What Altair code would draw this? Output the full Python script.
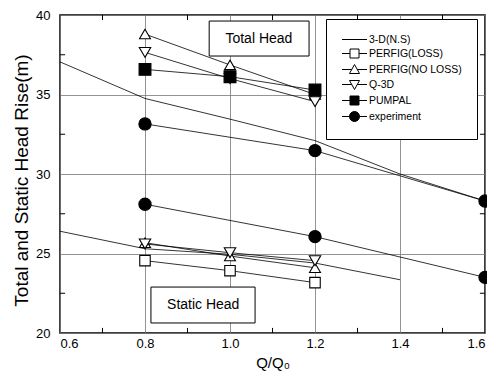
import altair as alt
import pandas as pd

# ---------------- data ----------------
series_names = ["3-D(N.S)", "PERFIG(LOSS)", "PERFIG(NO LOSS)", "Q-3D", "PUMPAL", "experiment"]

q_cfd_total = [0.6, 0.8, 1.0, 1.2, 1.4, 1.6]
cfd_total = [37.05, 34.75, 33.45, 32.1, 30.0, 28.3]
q_cfd_static = [0.6, 0.8, 1.0, 1.2, 1.4]
cfd_static = [26.4, 25.3, 24.95, 24.4, 23.35]

q_design = [0.8, 1.0, 1.2]
perfig_loss_static = [24.55, 23.92, 23.17]
perfig_noloss_total = [38.8, 36.86, 35.0]
perfig_noloss_static = [25.68, 24.84, 24.1]
q3d_total = [37.65, 36.0, 34.55]
q3d_static = [25.6, 25.05, 24.55]
pumpal_total = [36.58, 36.12, 35.28]

q_exp = [0.8, 1.2, 1.6]
exp_total = [33.15, 31.47, 28.3]
exp_static = [28.1, 26.06, 23.5]

x_ticks = [0.6, 0.8, 1.0, 1.2, 1.4, 1.6]
y_ticks = [20, 25, 30, 35, 40]
minor_x = [0.7, 0.9, 1.1, 1.3, 1.5]
minor_y = [22.5, 27.5, 32.5, 37.5]

annot_text = ["Total Head", "Static Head"]
annot_x = [1.068, 0.937]
annot_y = [38.52, 21.76]
annot_x1 = [0.951, 0.814]
annot_x2 = [1.186, 1.059]
annot_y1 = [39.62, 22.89]
annot_y2 = [37.42, 20.63]

# ---------------- table ----------------
rows = []
def add(name, head, xs, ys):
    for a, b in zip(xs, ys):
        rows.append({"series": name, "head": head, "grp": name + "|" + head, "q": a, "h": b})

add("3-D(N.S)", "total", q_cfd_total, cfd_total)
add("3-D(N.S)", "static", q_cfd_static, cfd_static)
add("PERFIG(LOSS)", "static", q_design, perfig_loss_static)
add("PERFIG(NO LOSS)", "total", q_design, perfig_noloss_total)
add("PERFIG(NO LOSS)", "static", q_design, perfig_noloss_static)
add("Q-3D", "total", q_design, q3d_total)
add("Q-3D", "static", q_design, q3d_static)
add("PUMPAL", "total", q_design, pumpal_total)
add("experiment", "total", q_exp, exp_total)
add("experiment", "static", q_exp, exp_static)
df = pd.DataFrame(rows)
pts = df[df["series"] != "3-D(N.S)"].reset_index(drop=True)

xs = alt.Scale(domain=[0.6, 1.6], nice=False, zero=False)
ys = alt.Scale(domain=[20, 40], nice=False, zero=False)

X = alt.X("q:Q", scale=xs,
          axis=alt.Axis(values=x_ticks, format=".1f", title="Q/Q\u2080", grid=True))
Y = alt.Y("h:Q", scale=ys,
          axis=alt.Axis(values=y_ticks, format="d", title="Total and Static Head Rise(m)",
                        grid=True, titleY=165))

lines = alt.Chart(df).mark_line(color="black", strokeWidth=0.8).encode(
    x=X, y=Y, detail="grp:N", order="q:Q")

pt_names = series_names[1:]
points = alt.Chart(pts).mark_point(filled=True, opacity=1, strokeWidth=1.1).encode(
    x=alt.X("q:Q", scale=xs),
    y=alt.Y("h:Q", scale=ys),
    shape=alt.Shape("series:N", legend=None,
                    scale=alt.Scale(domain=pt_names,
                                    range=["square", "triangle-up", "triangle-down", "square", "circle"])),
    fill=alt.Fill("series:N", legend=None,
                  scale=alt.Scale(domain=pt_names,
                                  range=["white", "white", "white", "black", "black"])),
    size=alt.Size("series:N", legend=None,
                  scale=alt.Scale(domain=pt_names, range=[110, 150, 150, 110, 140])),
    stroke=alt.value("black"),
)

# legend (library legend, custom symbols "-□-")
leg_paths = [
    "M-2.5,0H2.5",
    "M-2.5,0H-0.9M0.9,0H2.5M-0.9,-0.9H0.9V0.9H-0.9Z",
    "M-2.5,0H-0.556M0.556,0H2.5M0,-1L1,0.8H-1Z",
    "M-2.5,0H-0.556M0.556,0H2.5M0,1L1,-0.8H-1Z",
    "M-2.5,0H-0.9M0.9,0H2.5M-0.9,-0.9H0.9V0.9H-0.9Z",
    "M-2.5,0H-1M1,0H2.5M-1,0A1,1 0 1,0 1,0A1,1 0 1,0 -1,0Z",
]
leg_df = pd.DataFrame({"series": series_names, "q": [0.0] * 6, "h": [30.0] * 6})
legend = alt.Legend(title=None, orient="none", legendX=266, legendY=4,
                    strokeColor="black", fillColor="white", padding=15,
                    symbolSize=100, symbolStrokeWidth=1, symbolOpacity=1,
                    labelFont="Liberation Sans", labelFontSize=10.5, labelOffset=9,
                    symbolOffset=8, rowPadding=2, labelColor="black")
leg_layer = alt.Chart(leg_df).mark_point(filled=True, clip=True, opacity=1).encode(
    x=alt.X("q:Q", scale=xs),
    y=alt.Y("h:Q", scale=ys),
    shape=alt.Shape("series:N", legend=legend,
                    scale=alt.Scale(domain=series_names, range=leg_paths)),
    fill=alt.Fill("series:N", legend=legend,
                  scale=alt.Scale(domain=series_names,
                                  range=["black", "white", "white", "white", "black", "black"])),
    stroke=alt.Stroke("series:N", legend=legend,
                      scale=alt.Scale(domain=series_names, range=["black"] * 6)),
    strokeWidth=alt.value(1),
)

# minor inside ticks
mx = pd.DataFrame({"q": minor_x})
my = pd.DataFrame({"h": minor_y})
tick_bottom = alt.Chart(mx).mark_rule(color="black", strokeWidth=1).encode(
    x=alt.X("q:Q", scale=xs), y=alt.Y(datum=20, scale=ys), y2=alt.Y2(datum=20.32))
tick_top = alt.Chart(mx).mark_rule(color="black", strokeWidth=1).encode(
    x=alt.X("q:Q", scale=xs), y=alt.Y(datum=39.68, scale=ys), y2=alt.Y2(datum=40))
tick_left = alt.Chart(my).mark_rule(color="black", strokeWidth=1).encode(
    y=alt.Y("h:Q", scale=ys), x=alt.X(datum=0.6, scale=xs), x2=alt.X2(datum=0.612))
tick_right = alt.Chart(my).mark_rule(color="black", strokeWidth=1).encode(
    y=alt.Y("h:Q", scale=ys), x=alt.X(datum=1.588, scale=xs), x2=alt.X2(datum=1.6))

# annotation boxes
adf = pd.DataFrame({"t": annot_text, "x": annot_x, "y": annot_y,
                    "x1": annot_x1, "x2": annot_x2, "y1": annot_y1, "y2": annot_y2})
boxes = alt.Chart(adf).mark_rect(fill="white", stroke="black", strokeWidth=1).encode(
    x=alt.X("x1:Q", scale=xs), x2="x2:Q", y=alt.Y("y1:Q", scale=ys), y2="y2:Q")
texts = alt.Chart(adf).mark_text(font="Liberation Sans", fontSize=14, color="black").encode(
    x=alt.X("x:Q", scale=xs), y=alt.Y("y:Q", scale=ys), text="t:N")

chart = alt.layer(
    lines, tick_bottom, tick_top, tick_left, tick_right, leg_layer, points, boxes, texts
).resolve_scale(shape="independent", fill="independent", stroke="independent").properties(
    width=425, height=318,
    autosize=alt.AutoSizeParams(type="none"),
    padding={"left": 52, "top": 7, "right": 2, "bottom": 40},
).configure_view(stroke="black", strokeWidth=1.5).configure_axis(
    labelFont="Liberation Sans", titleFont="Liberation Sans",
    labelColor="black", titleColor="black",
    labelFontSize=13, titleFontWeight="normal",
    tickSize=0, domain=False, gridColor="#777777", gridWidth=0.8,
).configure_axisX(labelPadding=4, titlePadding=5, titleFontSize=15).configure_axisY(
    labelPadding=10, titlePadding=4, titleFontSize=19)

chart.save("out.html", embed_options={"renderer": "svg", "actions": False})
